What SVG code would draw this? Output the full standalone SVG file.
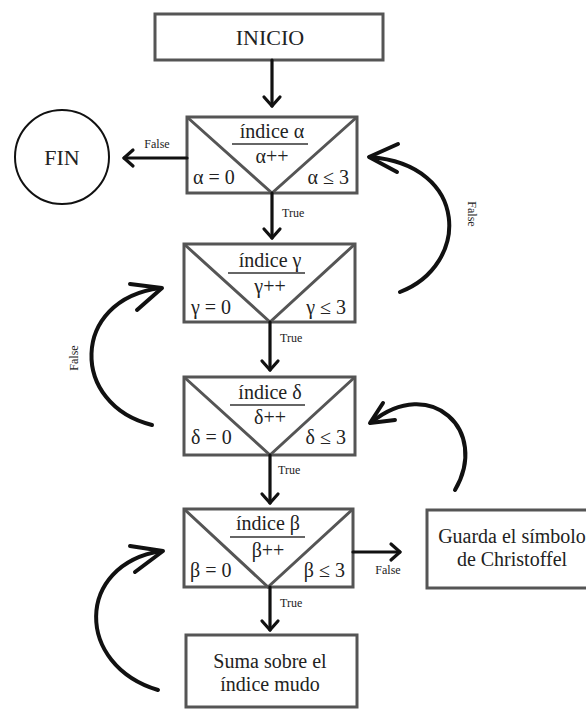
<svg xmlns="http://www.w3.org/2000/svg" width="586" height="709" viewBox="0 0 586 709" font-family="'Liberation Serif', 'Times New Roman', Times, serif">
<style>
.box{fill:#fff;stroke:#555;stroke-width:3}
.diag{stroke:#555;stroke-width:3;fill:none}
.ul{stroke:#333;stroke-width:1.3}
text{font-family:'Liberation Serif','Times New Roman',Times,serif;fill:#222}
.t{font-size:20px}
.big{font-size:22px}
.s{font-size:12px}
.c{text-anchor:middle}
.r{text-anchor:end}
.ln{stroke:#111;stroke-width:3.2;fill:none;stroke-linecap:round;stroke-linejoin:round}
.cv{stroke:#111;stroke-width:4;fill:none;stroke-linecap:round;stroke-linejoin:round}
</style>
<rect width="586" height="709" fill="#fff"/>

<g id="inicio">
<rect class="box" x="155" y="14" width="228" height="46"/>
<text class="t big c" x="270" y="45">INICIO</text>
</g>

<g id="fin">
<circle cx="62" cy="157" r="47" fill="#fff" stroke="#111" stroke-width="2"/>
<text class="t big c" x="62" y="165">FIN</text>
</g>

<g id="alpha">
<rect class="box" x="187" y="117" width="170" height="76"/>
<polyline class="diag" points="187,117 272,193 357,117"/>
<text class="t c" x="272" y="138">índice α</text>
<line class="ul" x1="232" y1="144" x2="308" y2="144"/>
<text class="t c" x="272" y="163">α++</text>
<text class="t" x="193" y="184">α = 0</text>
<text class="t r" x="349" y="184">α ≤ 3</text>
</g>

<g id="gamma">
<rect class="box" x="184" y="244" width="171" height="78"/>
<polyline class="diag" points="184,244 270,322 355,244"/>
<text class="t c" x="270" y="267">índice γ</text>
<line class="ul" x1="228" y1="273" x2="305" y2="273"/>
<text class="t c" x="270" y="293">γ++</text>
<text class="t" x="191" y="314">γ = 0</text>
<text class="t r" x="346" y="314">γ ≤ 3</text>
</g>

<g id="delta">
<rect class="box" x="184" y="377" width="171" height="78"/>
<polyline class="diag" points="184,377 270,455 355,377"/>
<text class="t c" x="270" y="399">índice δ</text>
<line class="ul" x1="230" y1="405" x2="305" y2="405"/>
<text class="t c" x="270" y="424">δ++</text>
<text class="t" x="191" y="444">δ = 0</text>
<text class="t r" x="346" y="444">δ ≤ 3</text>
</g>

<g id="beta">
<rect class="box" x="184" y="509" width="169" height="78"/>
<polyline class="diag" points="184,509 268,587 353,509"/>
<text class="t c" x="268" y="530">índice β</text>
<line class="ul" x1="230" y1="537" x2="305" y2="537"/>
<text class="t c" x="268" y="557">β++</text>
<text class="t" x="190" y="577">β = 0</text>
<text class="t r" x="345" y="577">β ≤ 3</text>
</g>

<g id="guarda">
<rect class="box" x="427" y="510" width="165" height="78"/>
<text class="t c" x="512" y="543">Guarda el símbolo</text>
<text class="t c" x="512" y="566">de Christoffel</text>
</g>

<g id="suma">
<rect class="box" x="186" y="635" width="171" height="72"/>
<text class="t c" x="270" y="668">Suma sobre el</text>
<text class="t c" x="270" y="691">índice mudo</text>
</g>

<g id="connectors">
<line class="ln" x1="272" y1="60" x2="272" y2="106"/>
<polyline class="ln" points="264,97 272,106 280,97"/>
<line class="ln" x1="187" y1="158" x2="124" y2="158"/>
<polyline class="ln" points="133,150 124,158 133,166"/>
<text class="s c" x="157" y="148">False</text>
<line class="ln" x1="272" y1="193" x2="272" y2="238"/>
<polyline class="ln" points="264,229 272,238 280,229"/>
<text class="s" x="282" y="217">True</text>
<line class="ln" x1="270" y1="322" x2="270" y2="370"/>
<polyline class="ln" points="262,361 270,370 278,361"/>
<text class="s" x="280" y="342">True</text>
<line class="ln" x1="270" y1="455" x2="270" y2="503"/>
<polyline class="ln" points="262,494 270,503 278,494"/>
<text class="s" x="278" y="474">True</text>
<line class="ln" x1="270" y1="587" x2="270" y2="630"/>
<polyline class="ln" points="262,621 270,630 278,621"/>
<text class="s" x="280" y="607">True</text>
<line class="ln" x1="353" y1="552" x2="400" y2="552"/>
<polyline class="ln" points="391,544 400,552 391,560"/>
<text class="s c" x="388" y="574">False</text>
<path class="cv" d="M400,292 C470,265 470,165 370,157"/>
<polyline class="cv" points="398,144 369,157 397,172"/>
<text class="s c" transform="translate(468,214) rotate(90)">False</text>
<path class="cv" d="M152,425 C70,405 70,300 160,288"/>
<polyline class="cv" points="130,284 162,288 137,310"/>
<text class="s c" transform="translate(78,358) rotate(-90)">False</text>
<path class="cv" d="M455,490 C490,430 430,375 372,422"/>
<polyline class="cv" points="383,403 370,423 395,420"/>
<path class="cv" d="M158,690 C75,665 75,565 161,551"/>
<polyline class="cv" points="130,546 163,551 135,572"/>
</g>
</svg>
